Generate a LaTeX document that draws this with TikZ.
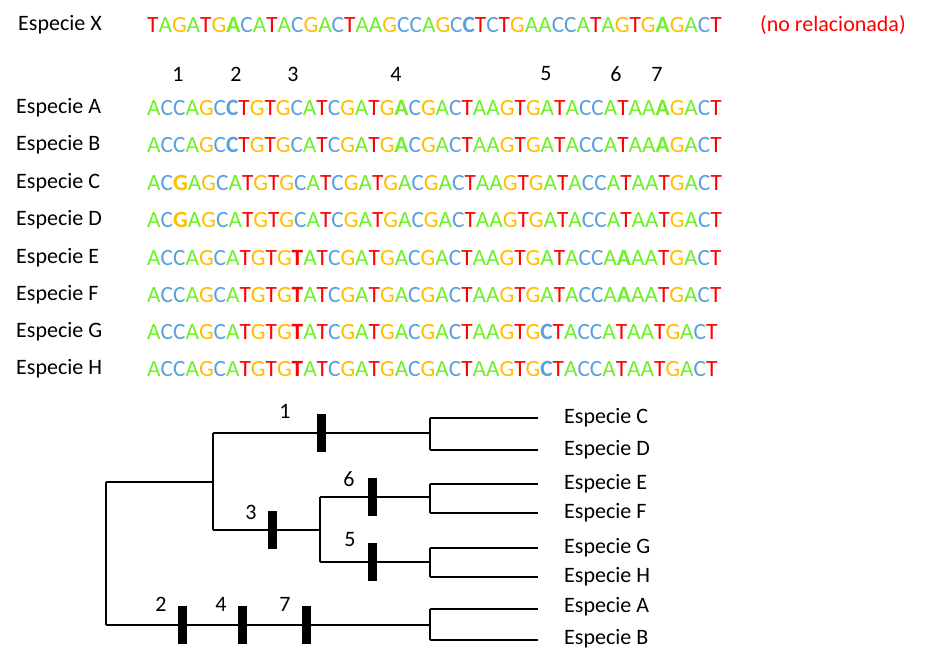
\documentclass[tikz,border=0pt]{standalone}
\usepackage{fontspec}
\setmainfont{Carlito}
\definecolor{bA}{RGB}{110,240,40}
\definecolor{bC}{RGB}{90,160,220}
\definecolor{bG}{RGB}{255,190,0}
\definecolor{bT}{RGB}{255,0,0}
\makeatletter
\def\lt#1{\if#1A\textcolor{bA}{A}\else\if#1C\textcolor{bC}{C}\else\if#1G\textcolor{bG}{G}\else\if#1T\textcolor{bT}{T}\else
\if#1a\textcolor{bA}{\bfseries A}\else\if#1c\textcolor{bC}{\bfseries C}\else\if#1g\textcolor{bG}{\bfseries G}\else\if#1t\textcolor{bT}{\bfseries T}\fi\fi\fi\fi\fi\fi\fi\fi}
\def\sqq#1{\sqi#1\relax}
\def\sqi#1{\ifx#1\relax\else\lt{#1}\expandafter\sqi\fi}
\makeatother
\tikzset{lab/.style={anchor=west,inner sep=0pt,font=\fontsize{22}{24}\selectfont},
seq/.style={anchor=west,inner sep=0pt,font=\fontsize{23.3}{24}\selectfont},
num/.style={inner sep=0pt,font=\fontsize{22}{24}\selectfont},
br/.style={line width=2pt},
bar/.style={fill=black,minimum width=9pt,minimum height=38pt,inner sep=0pt}}
\begin{document}
\begin{tikzpicture}[x=1pt,y=-1pt]
\useasboundingbox (0,0) rectangle (937,667);
\node[lab] (lx) at (18,25) {Especie X};
\node[seq] (sx) at (147,25) {\sqq{TAGATGaCATACGACTAAGCCAGCcTCTGAACCATAGTGaGACT}};
\node[lab,text=bT] (nr) at (760,25) {(no relacionada)};
\foreach \n/\x in {1/178,2/236,3/293,4/396,5/546,6/616,7/657}
  \node[num] (n\n) at (\x,74) {\n};
\foreach \s/\y/\q in {
 A/108/ACCAGCcTGTGCATCGATGaCGACTAAGTGATACCATAAaGACT,
 B/145/ACCAGCcTGTGCATCGATGaCGACTAAGTGATACCATAAaGACT,
 C/183/ACgAGCATGTGCATCGATGACGACTAAGTGATACCATAATGACT,
 D/220/ACgAGCATGTGCATCGATGACGACTAAGTGATACCATAATGACT,
 E/258/ACCAGCATGTGtATCGATGACGACTAAGTGATACCAaAATGACT,
 F/295/ACCAGCATGTGtATCGATGACGACTAAGTGATACCAaAATGACT,
 G/332/ACCAGCATGTGtATCGATGACGACTAAGTGcTACCATAATGACT,
 H/369/ACCAGCATGTGtATCGATGACGACTAAGTGcTACCATAATGACT}{
 \node[lab] (l\s) at (16,\y) {Especie \s};
 \node[seq] (s\s) at (147,\y) {\expandafter\sqq\expandafter{\q}};
}
% tree
\foreach \s/\y in {C/418,D/450,E/484,F/513,G/548,H/577,A/607,B/639}
  \node[lab] (t\s) at (564,\y) {Especie \s};
\coordinate (r1) at (106,482); \coordinate (r2) at (106,625);
\coordinate (p) at (213,482);
\coordinate (p1) at (213,433); \coordinate (p2) at (213,530);
\coordinate (cd) at (430,433); \coordinate (q) at (320,530);
\coordinate (q1) at (320,497); \coordinate (q2) at (320,562);
\coordinate (ef) at (430,497); \coordinate (gh) at (430,562);
\coordinate (ab) at (430,625);
\draw[br] (r1) -- (r2);
\draw[br] (r1) -- (p); \draw[br] (p1) -- (p2);
\draw[br] (p1) -- (cd); \draw[br] (p2) -- (q); \draw[br] (q1) -- (q2);
\draw[br] (q1) -- (ef); \draw[br] (q2) -- (gh); \draw[br] (r2) -- (ab);
\foreach \c/\a/\b/\u/\v in {cd/C/D/418/450,ef/E/F/484/513,gh/G/H/548/577,ab/A/B/609/640}{
  \draw[br] (430,\u) -- (430,\v);
  \draw[br] (430,\u) -- (538,\u);
  \draw[br] (430,\v) -- (538,\v);
}
\node[bar] (b1) at (321,433) {};
\node[bar] (b3) at (272,530) {};
\node[bar] (b6) at (372,497) {};
\node[bar] (b5) at (372,562) {};
\node[bar] (b2) at (182,625) {};
\node[bar] (b4) at (242,625) {};
\node[bar] (b7) at (306,625) {};
\node[num] (m1) at (285,411) {1};
\node[num] (m3) at (251,512) {3};
\node[num] (m6) at (349,479) {6};
\node[num] (m5) at (350,540) {5};
\node[num] (m2) at (161,604) {2};
\node[num] (m4) at (221,604) {4};
\node[num] (m7) at (285,604) {7};
\end{tikzpicture}
\end{document}
